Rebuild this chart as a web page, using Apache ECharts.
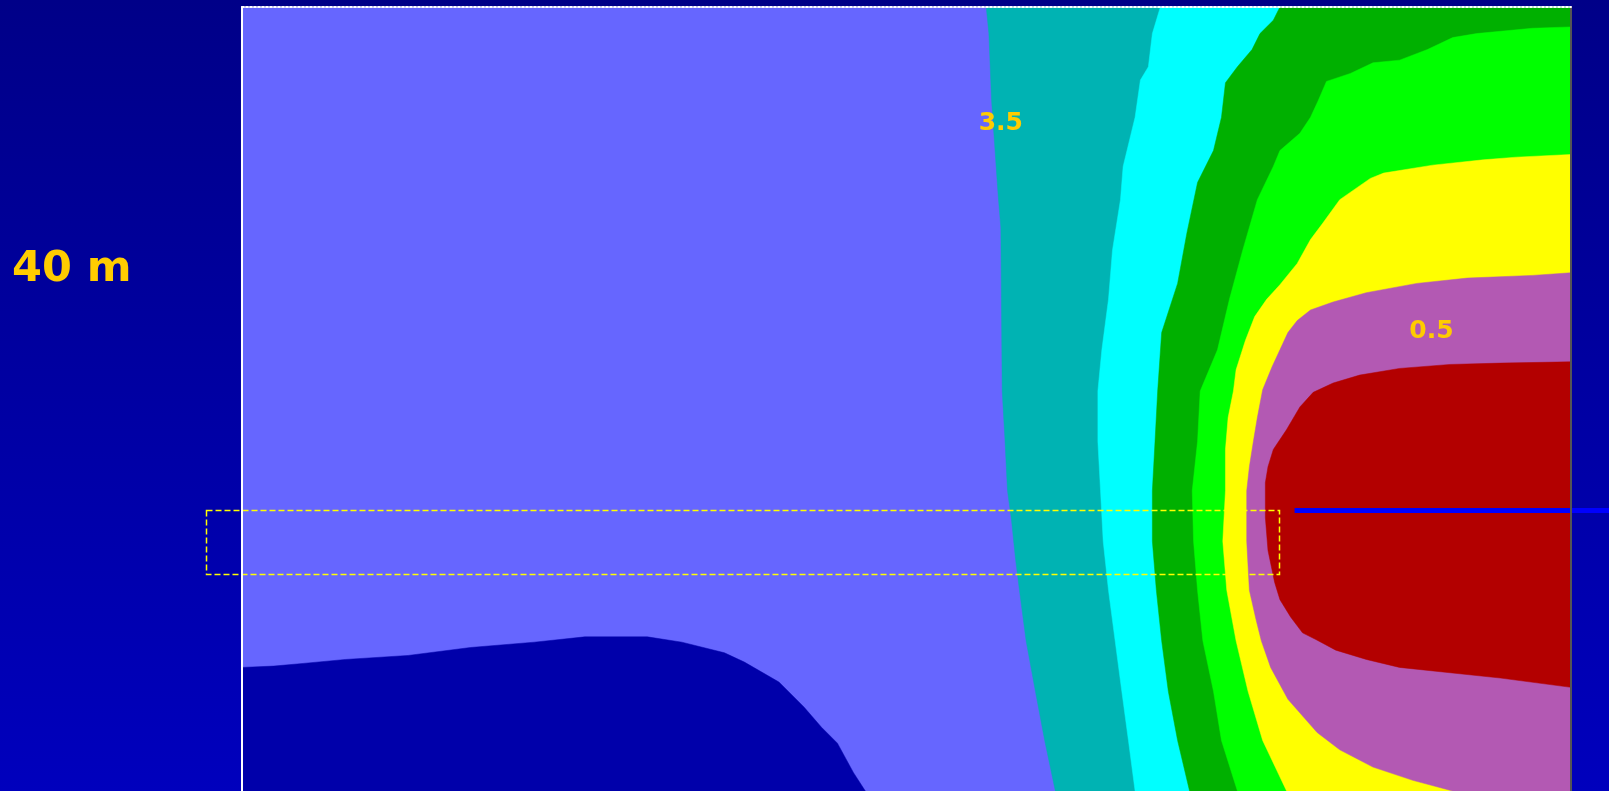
<!DOCTYPE html>
<html>
<head>
<meta charset="utf-8">
<script src="https://cdn.jsdelivr.net/npm/echarts@6/dist/echarts.min.js"></script>
<style>
  html, body { margin: 0; padding: 0; overflow: hidden; }
  body { background: linear-gradient(to bottom, #000088 0%, #0000bd 100%); }
  #chart { width: 1609px; height: 791px; }
</style>
</head>
<body>
<div id="chart"></div>
<script>
// Section extent: horizontal distance and depth (model units)
const xExtent = [0, 100];
const depthExtent = [0, 59];

// Contour levels, highest first; each polyline bounds the region beyond that level
const contourLevels = [4.0, 3.5, 3.0, 2.5, 2.0, 1.5, 1.0, 0.5];

// 4.0 contour: lower-left high zone
const contour40 = [[0, 49.7], [2.4, 49.6], [4.6, 49.4], [7.8, 49.1], [12.5, 48.8], [17.2, 48.2],
  [22.0, 47.8], [25.8, 47.4], [30.5, 47.4], [33.1, 47.8], [36.3, 48.6], [37.8, 49.3], [40.4, 50.8],
  [42.3, 52.7], [43.6, 54.2], [44.8, 55.4], [46.0, 57.6], [46.9, 59]];

// 3.5 contour
const contour35 = [[56.0, 0], [56.2, 2.0], [56.4, 7.0], [56.9, 14.2], [57.1, 16.6], [57.2, 28.9],
  [57.4, 32.4], [57.6, 36.4], [57.9, 38.6], [58.2, 41.5], [58.5, 43.9], [59.0, 47.7], [59.7, 51.5],
  [60.4, 55.2], [61.2, 59]];

// 3.0 contour
const contour30 = [[69.1, 0], [68.5, 2.0], [68.2, 4.5], [67.6, 5.5], [67.2, 8.3], [66.3, 12.0],
  [66.1, 14.5], [65.5, 18.3], [65.2, 22.0], [64.7, 25.8], [64.4, 28.9], [64.4, 32.7], [64.6, 36.4],
  [64.8, 40.2], [65.2, 43.9], [65.7, 47.7], [66.2, 51.5], [66.7, 55.2], [67.2, 59]];

// 2.5 contour
const contour25 = [[78.1, 0], [77.6, 1.0], [76.6, 2.0], [76.0, 3.2], [74.9, 4.5], [74.0, 5.7],
  [73.7, 8.3], [73.1, 10.8], [71.9, 13.2], [71.1, 17.0], [70.4, 20.8], [69.2, 24.5], [68.9, 28.9],
  [68.7, 32.7], [68.5, 36.4], [68.5, 40.2], [68.8, 43.9], [69.2, 47.7], [69.7, 51.5], [70.4, 55.2],
  [71.3, 59]];

// 2.0 contour
const contour20 = [[100, 1.5], [97.1, 1.6], [92.9, 2.0], [91.1, 2.3], [89.2, 3.2], [87.1, 4.0],
  [85.1, 4.2], [83.4, 5.0], [81.6, 5.6], [81.0, 7.0], [80.4, 8.3], [79.6, 9.5], [78.1, 10.8],
  [77.6, 12.0], [76.4, 14.5], [75.3, 18.3], [74.3, 22.0], [73.4, 25.8], [72.1, 28.9], [71.9, 32.7],
  [71.5, 36.4], [71.6, 40.2], [71.9, 43.9], [72.3, 47.7], [73.1, 51.5], [73.7, 55.2], [74.9, 59]];

// 1.5 contour
const contour15 = [[100, 11.1], [95.9, 11.3], [93.4, 11.5], [89.6, 11.9], [85.9, 12.5], [84.9, 12.9],
  [82.6, 14.5], [81.3, 16.3], [80.4, 17.5], [79.4, 19.3], [78.1, 20.9], [77.1, 22.0], [76.2, 23.3],
  [75.5, 25.1], [74.8, 27.3], [74.6, 28.9], [74.2, 30.9], [74.0, 33.3], [74.0, 36.4], [73.8, 40.2],
  [74.1, 43.9], [74.8, 47.7], [75.7, 51.5], [76.8, 55.2], [78.6, 59]];

// 1.0 contour
const contour10 = [[100, 20.0], [97.1, 20.2], [92.2, 20.4], [88.4, 20.8], [84.6, 21.5], [82.1, 22.2],
  [80.4, 22.8], [79.4, 23.6], [78.7, 24.5], [78.1, 25.8], [77.5, 27.1], [76.8, 28.8], [76.4, 30.9],
  [76.1, 32.7], [75.8, 34.6], [75.6, 36.4], [75.6, 40.2], [75.8, 43.9], [76.3, 46.1], [76.7, 47.7],
  [77.4, 49.7], [78.7, 52.1], [80.9, 54.6], [82.6, 55.9], [85.1, 57.2], [88.1, 58.2], [91.1, 59]];

// 0.5 contour: closed against the right boundary
const contour05 = [[100, 26.7], [94.7, 26.8], [90.9, 26.9], [87.1, 27.2], [84.1, 27.7], [82.1, 28.3],
  [80.6, 29.0], [79.6, 30.1], [78.6, 31.8], [77.6, 33.3], [77.2, 34.6], [77.0, 35.8], [77.0, 38.4],
  [77.2, 40.9], [77.7, 43.3], [78.1, 44.6], [78.9, 45.9], [79.8, 47.1], [80.8, 47.6], [82.3, 48.4],
  [84.6, 49.1], [87.1, 49.7], [90.9, 50.1], [94.7, 50.5], [100, 51.2]];

const contourLines = [contour40, contour35, contour30, contour25, contour20, contour15, contour10, contour05];

// Contour labels
const labelValues = [3.5, 0.5];
const labelX = [57.1, 89.5];
const labelDepth = [8.8, 24.4];

// Well trace and the dashed window around its level
const wellX = [79.2, 104];
const wellDepth = 37.9;
const boxX = [-2.7, 78.0];
const boxDepth = [37.85, 42.65];

// ---- styling ----
const baseFill = '#6666ff';
const fillByLevel = {
  4.0: '#0000aa',
  3.5: '#00b3b3',
  3.0: '#00ffff',
  2.5: '#00b000',
  2.0: '#00ff00',
  1.5: '#ffff00',
  1.0: '#b359b3',
  0.5: '#b30000'
};
const xMin = xExtent[0], xMax = xExtent[1], dTop = depthExtent[0], dBot = depthExtent[1];
// Corners walked along the section border to close each region
const closeCorners = {
  4.0: [[xMin, dBot]],
  3.5: [[xMax, dBot], [xMax, dTop]],
  3.0: [[xMax, dBot], [xMax, dTop]],
  2.5: [[xMax, dBot], [xMax, dTop]],
  2.0: [[xMax, dBot]],
  1.5: [[xMax, dBot]],
  1.0: [[xMax, dBot]],
  0.5: []
};

const regions = contourLevels.map((lvl, i) => ({ level: lvl, line: contourLines[i] }));

const chart = echarts.init(document.getElementById('chart'), null, { renderer: 'canvas' });

const hiddenAxisBits = {
  axisTick: { show: false },
  axisLabel: { show: false },
  splitLine: { show: false }
};

chart.setOption({
  animation: false,
  backgroundColor: 'transparent',
  grid: {
    left: 242, top: 7, width: 1329, height: 784,
    show: true, backgroundColor: baseFill, borderWidth: 0
  },
  xAxis: Object.assign({
    type: 'value', min: xMin, max: xMax, position: 'top', z: 6,
    axisLine: { show: true, onZero: false, lineStyle: { color: '#ffffff', width: 2, type: [2, 2] } }
  }, hiddenAxisBits),
  yAxis: [
    Object.assign({
      type: 'value', min: dTop, max: dBot, inverse: true, position: 'left', z: 6,
      axisLine: { show: true, onZero: false, lineStyle: { color: '#ffffff', width: 2 } }
    }, hiddenAxisBits),
    Object.assign({
      type: 'value', min: dTop, max: dBot, inverse: true, position: 'right', z: 6,
      axisLine: { show: true, onZero: false, lineStyle: { color: '#555555', width: 2 } }
    }, hiddenAxisBits)
  ],
  graphic: [{
    type: 'text', left: 12, top: 248, z: 10,
    style: { text: '40 m', fill: '#ffcc00', font: 'bold 43px "DejaVu Sans"' }
  }],
  series: [
    {
      // filled contour bands
      type: 'custom',
      name: 'bands',
      coordinateSystem: 'cartesian2d',
      silent: true,
      z: 1,
      data: regions.map((r, i) => [i]),
      renderItem: function (params, api) {
        const r = regions[params.dataIndex];
        const pts = r.line.concat(closeCorners[r.level]).map(p => api.coord(p));
        return {
          type: 'polygon',
          shape: { points: pts },
          style: { fill: fillByLevel[r.level], stroke: fillByLevel[r.level], lineWidth: 0.5 }
        };
      }
    },
    {
      // dashed window and the well trace, allowed past the section border
      type: 'custom',
      name: 'annotations',
      coordinateSystem: 'cartesian2d',
      silent: true,
      clip: false,
      z: 4,
      data: [[0]],
      renderItem: function (params, api) {
        const tl = api.coord([boxX[0], boxDepth[0]]);
        const br = api.coord([boxX[1], boxDepth[1]]);
        const w0 = api.coord([wellX[0], wellDepth]);
        const w1 = api.coord([wellX[1], wellDepth]);
        return {
          type: 'group',
          children: [
            {
              type: 'rect',
              shape: { x: Math.round(tl[0]) + 0.5, y: Math.round(tl[1]) + 0.5,
                       width: Math.round(br[0] - tl[0]), height: Math.round(br[1] - tl[1]) },
              style: { fill: null, stroke: '#ffff00', lineWidth: 1.5, lineDash: [6, 3] }
            },
            {
              type: 'line',
              shape: { x1: w0[0], y1: w0[1], x2: w1[0], y2: w1[1] },
              style: { stroke: '#0000ff', lineWidth: 5 }
            }
          ]
        };
      }
    },
    {
      // contour value labels
      type: 'custom',
      name: 'labels',
      coordinateSystem: 'cartesian2d',
      silent: true,
      z: 6,
      data: labelValues.map((v, i) => [labelX[i], labelDepth[i], v]),
      renderItem: function (params, api) {
        const p = api.coord([api.value(0), api.value(1)]);
        return {
          type: 'text',
          x: p[0], y: p[1],
          style: {
            text: api.value(2).toFixed(1), fill: '#ffcc00',
            font: 'bold 25px "DejaVu Sans"', align: 'center', verticalAlign: 'middle'
          }
        };
      }
    }
  ]
});
</script>
</body>
</html>
